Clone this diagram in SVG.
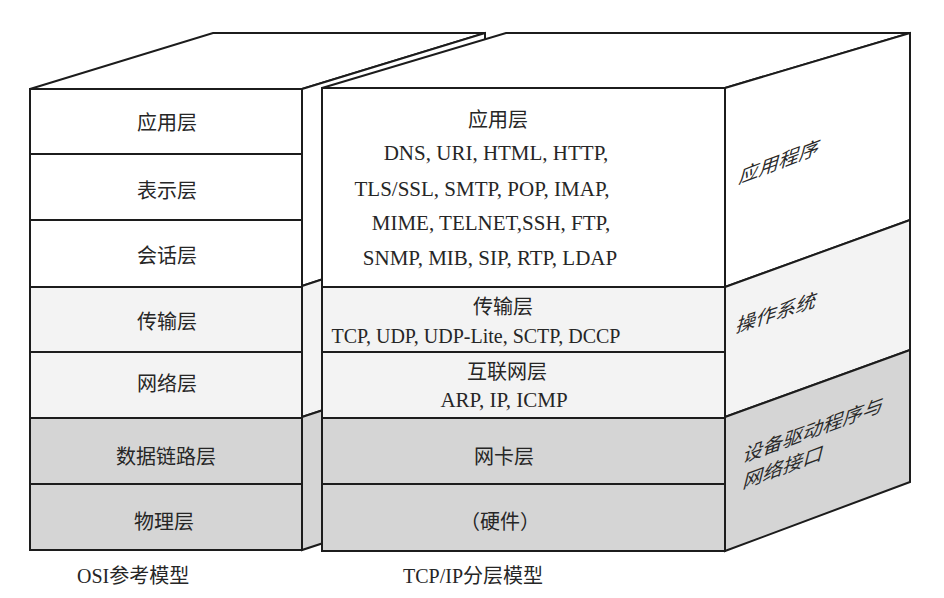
<svg xmlns="http://www.w3.org/2000/svg" width="944" height="598" viewBox="0 0 944 598">
<style>
.w{fill:#ffffff}
.l{fill:#f3f3f3}
.g{fill:#d5d5d5}
.s{stroke:#1c1c1c;stroke-width:2;stroke-linejoin:miter}
.t{font-family:"Liberation Serif","Noto Sans CJK SC",serif;font-size:20px;fill:#262626;text-anchor:middle}
.e{font-family:"Liberation Serif","Noto Sans CJK SC",serif;font-size:21px;fill:#262626;text-anchor:middle}
.side{font-family:"Liberation Serif","Noto Sans CJK SC",serif;font-size:20px;fill:#2a2a2a}
.cap{font-family:"Liberation Serif","Noto Sans CJK SC",serif;font-size:20px;fill:#262626}
</style>
<rect x="0" y="0" width="944" height="598" fill="#ffffff"/>

<g id="osi">
  <g id="osi-top"><polygon class="w s" points="30,89 213,33 485,33 302,89"/></g>
  <g id="osi-side">
    <polygon class="w s" points="302,89 485,33 485,226 302,286"/>
    <polygon class="l s" points="302,286 485,226 485,357 302,417"/>
    <polygon class="g s" points="302,417 485,357 485,490 302,550"/>
  </g>
  <g id="osi-app"><rect class="w s" x="30" y="89" width="272" height="65"/><text class="t" x="167" y="130">应用层</text></g>
  <g id="osi-pres"><rect class="w s" x="30" y="154" width="272" height="66"/><text class="t" x="167" y="198">表示层</text></g>
  <g id="osi-sess"><rect class="w s" x="30" y="220" width="272" height="67"/><text class="t" x="167" y="263">会话层</text></g>
  <g id="osi-trans"><rect class="l s" x="30" y="287" width="272" height="65"/><text class="t" x="167" y="329">传输层</text></g>
  <g id="osi-net"><rect class="l s" x="30" y="352" width="272" height="66"/><text class="t" x="167" y="391">网络层</text></g>
  <g id="osi-link"><rect class="g s" x="30" y="418" width="272" height="66"/><text class="t" x="166" y="464">数据链路层</text></g>
  <g id="osi-phys"><rect class="g s" x="30" y="484" width="272" height="66"/><text class="t" x="164" y="529">物理层</text></g>
</g>

<g id="tcpip">
  <g id="tcp-top"><polygon class="w s" points="322,88 506,33 910,33 725,88"/></g>
  <g id="tcp-side-app">
    <polygon class="w s" points="725,88 910,33 910,220 725,287"/>
    <text class="side" transform="matrix(1,-0.38,-0.25,1,738,184)">应用程序</text>
  </g>
  <g id="tcp-side-os">
    <polygon class="l s" points="725,287 910,220 910,350 725,417"/>
    <text class="side" transform="matrix(1,-0.33,-0.25,1,735,333)">操作系统</text>
  </g>
  <g id="tcp-side-drv">
    <polygon class="g s" points="725,417 910,350 910,482 725,551"/>
    <text class="side" transform="matrix(1,-0.37,-0.25,1,742,463)">设备驱动程序与</text>
    <text class="side" transform="matrix(1,-0.37,-0.25,1,742,489)">网络接口</text>
  </g>
  <g id="tcp-app">
    <rect class="w s" x="322" y="88" width="403" height="199"/>
    <text class="t" x="498" y="127">应用层</text>
    <text class="e" x="496" y="160">DNS, URI, HTML, HTTP,</text>
    <text class="e" x="482" y="196">TLS/SSL, SMTP, POP, IMAP,</text>
    <text class="e" x="491" y="230">MIME, TELNET,SSH, FTP,</text>
    <text class="e" x="490" y="265">SNMP, MIB, SIP, RTP, LDAP</text>
  </g>
  <g id="tcp-trans">
    <rect class="l s" x="322" y="287" width="403" height="65"/>
    <text class="t" x="503" y="314">传输层</text>
    <text class="e" x="476" y="343" style="font-size:20px">TCP, UDP, UDP-Lite, SCTP, DCCP</text>
  </g>
  <g id="tcp-inet">
    <rect class="l s" x="322" y="352" width="403" height="66"/>
    <text class="t" x="507" y="379">互联网层</text>
    <text class="e" x="504" y="407">ARP, IP, ICMP</text>
  </g>
  <g id="tcp-nic"><rect class="g s" x="322" y="418" width="403" height="66"/><text class="t" x="504" y="464">网卡层</text></g>
  <g id="tcp-hw"><rect class="g s" x="322" y="484" width="403" height="67"/><text class="t" x="500" y="529">（硬件）</text></g>
</g>

<g id="connectors"></g>

<g id="captions">
  <text class="cap" x="77" y="583">OSI参考模型</text>
  <text class="cap" x="403" y="583">TCP/IP分层模型</text>
</g>
</svg>
